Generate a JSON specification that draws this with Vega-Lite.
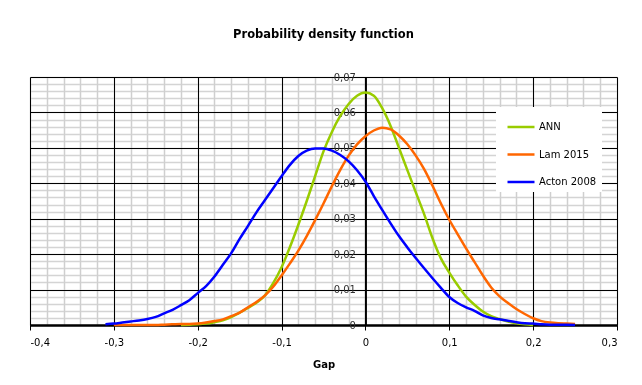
{
  "$schema": "https://vega.github.io/schema/vega-lite/v6.json",
  "autosize": "none",
  "width": 587,
  "height": 248,
  "padding": {"left": 30, "top": 77, "right": 25, "bottom": 60},
  "background": "white",
  "config": {"view": {"stroke": null}, "font": "DejaVu Sans"},
  "title": {"text": "Probability density function", "fontSize": 11.5, "fontWeight": "bold", "anchor": "middle", "baseline": "alphabetic", "offset": 23, "color": "#000000", "font": "DejaVu Sans"},
  "data": {"values": [
    {"series": "ANN", "gap": -0.22, "density": 0.0000},
    {"series": "ANN", "gap": -0.21, "density": 0.0001},
    {"series": "ANN", "gap": -0.20, "density": 0.0002},
    {"series": "ANN", "gap": -0.19, "density": 0.0004},
    {"series": "ANN", "gap": -0.18, "density": 0.0008},
    {"series": "ANN", "gap": -0.17, "density": 0.0013},
    {"series": "ANN", "gap": -0.16, "density": 0.0022},
    {"series": "ANN", "gap": -0.15, "density": 0.0035},
    {"series": "ANN", "gap": -0.14, "density": 0.0048},
    {"series": "ANN", "gap": -0.13, "density": 0.0063},
    {"series": "ANN", "gap": -0.12, "density": 0.0083},
    {"series": "ANN", "gap": -0.11, "density": 0.0118},
    {"series": "ANN", "gap": -0.10, "density": 0.0163},
    {"series": "ANN", "gap": -0.09, "density": 0.0220},
    {"series": "ANN", "gap": -0.08, "density": 0.0283},
    {"series": "ANN", "gap": -0.07, "density": 0.0350},
    {"series": "ANN", "gap": -0.06, "density": 0.0420},
    {"series": "ANN", "gap": -0.05, "density": 0.0490},
    {"series": "ANN", "gap": -0.04, "density": 0.0545},
    {"series": "ANN", "gap": -0.03, "density": 0.0590},
    {"series": "ANN", "gap": -0.02, "density": 0.0624},
    {"series": "ANN", "gap": -0.01, "density": 0.0647},
    {"series": "ANN", "gap": 0.00, "density": 0.0656},
    {"series": "ANN", "gap": 0.01, "density": 0.0647},
    {"series": "ANN", "gap": 0.02, "density": 0.0612},
    {"series": "ANN", "gap": 0.03, "density": 0.0562},
    {"series": "ANN", "gap": 0.04, "density": 0.0500},
    {"series": "ANN", "gap": 0.05, "density": 0.0437},
    {"series": "ANN", "gap": 0.06, "density": 0.0375},
    {"series": "ANN", "gap": 0.07, "density": 0.0313},
    {"series": "ANN", "gap": 0.08, "density": 0.0245},
    {"series": "ANN", "gap": 0.09, "density": 0.0188},
    {"series": "ANN", "gap": 0.10, "density": 0.0148},
    {"series": "ANN", "gap": 0.11, "density": 0.0112},
    {"series": "ANN", "gap": 0.12, "density": 0.0080},
    {"series": "ANN", "gap": 0.13, "density": 0.0057},
    {"series": "ANN", "gap": 0.14, "density": 0.0038},
    {"series": "ANN", "gap": 0.15, "density": 0.0025},
    {"series": "ANN", "gap": 0.16, "density": 0.0017},
    {"series": "ANN", "gap": 0.17, "density": 0.0010},
    {"series": "ANN", "gap": 0.18, "density": 0.0005},
    {"series": "ANN", "gap": 0.19, "density": 0.0002},
    {"series": "ANN", "gap": 0.20, "density": 0.0000},
    {"series": "Lam 2015", "gap": -0.30, "density": 0.0000},
    {"series": "Lam 2015", "gap": -0.29, "density": 0.0000},
    {"series": "Lam 2015", "gap": -0.28, "density": 0.0000},
    {"series": "Lam 2015", "gap": -0.27, "density": 0.0000},
    {"series": "Lam 2015", "gap": -0.26, "density": 0.0000},
    {"series": "Lam 2015", "gap": -0.25, "density": 0.0000},
    {"series": "Lam 2015", "gap": -0.24, "density": 0.0001},
    {"series": "Lam 2015", "gap": -0.23, "density": 0.0002},
    {"series": "Lam 2015", "gap": -0.22, "density": 0.0003},
    {"series": "Lam 2015", "gap": -0.21, "density": 0.0003},
    {"series": "Lam 2015", "gap": -0.20, "density": 0.0004},
    {"series": "Lam 2015", "gap": -0.19, "density": 0.0007},
    {"series": "Lam 2015", "gap": -0.18, "density": 0.0011},
    {"series": "Lam 2015", "gap": -0.17, "density": 0.0016},
    {"series": "Lam 2015", "gap": -0.16, "density": 0.0025},
    {"series": "Lam 2015", "gap": -0.15, "density": 0.0035},
    {"series": "Lam 2015", "gap": -0.14, "density": 0.0050},
    {"series": "Lam 2015", "gap": -0.13, "density": 0.0065},
    {"series": "Lam 2015", "gap": -0.12, "density": 0.0083},
    {"series": "Lam 2015", "gap": -0.11, "density": 0.0108},
    {"series": "Lam 2015", "gap": -0.10, "density": 0.0140},
    {"series": "Lam 2015", "gap": -0.09, "density": 0.0174},
    {"series": "Lam 2015", "gap": -0.08, "density": 0.0210},
    {"series": "Lam 2015", "gap": -0.07, "density": 0.0251},
    {"series": "Lam 2015", "gap": -0.06, "density": 0.0296},
    {"series": "Lam 2015", "gap": -0.05, "density": 0.0343},
    {"series": "Lam 2015", "gap": -0.04, "density": 0.0392},
    {"series": "Lam 2015", "gap": -0.03, "density": 0.0438},
    {"series": "Lam 2015", "gap": -0.02, "density": 0.0478},
    {"series": "Lam 2015", "gap": -0.01, "density": 0.0510},
    {"series": "Lam 2015", "gap": 0.00, "density": 0.0533},
    {"series": "Lam 2015", "gap": 0.01, "density": 0.0549},
    {"series": "Lam 2015", "gap": 0.02, "density": 0.0557},
    {"series": "Lam 2015", "gap": 0.03, "density": 0.0552},
    {"series": "Lam 2015", "gap": 0.04, "density": 0.0535},
    {"series": "Lam 2015", "gap": 0.05, "density": 0.0510},
    {"series": "Lam 2015", "gap": 0.06, "density": 0.0478},
    {"series": "Lam 2015", "gap": 0.07, "density": 0.0440},
    {"series": "Lam 2015", "gap": 0.08, "density": 0.0393},
    {"series": "Lam 2015", "gap": 0.09, "density": 0.0343},
    {"series": "Lam 2015", "gap": 0.10, "density": 0.0297},
    {"series": "Lam 2015", "gap": 0.11, "density": 0.0256},
    {"series": "Lam 2015", "gap": 0.12, "density": 0.0216},
    {"series": "Lam 2015", "gap": 0.13, "density": 0.0178},
    {"series": "Lam 2015", "gap": 0.14, "density": 0.0140},
    {"series": "Lam 2015", "gap": 0.15, "density": 0.0106},
    {"series": "Lam 2015", "gap": 0.16, "density": 0.0081},
    {"series": "Lam 2015", "gap": 0.17, "density": 0.0062},
    {"series": "Lam 2015", "gap": 0.18, "density": 0.0045},
    {"series": "Lam 2015", "gap": 0.19, "density": 0.0031},
    {"series": "Lam 2015", "gap": 0.20, "density": 0.0019},
    {"series": "Lam 2015", "gap": 0.21, "density": 0.0011},
    {"series": "Lam 2015", "gap": 0.22, "density": 0.0007},
    {"series": "Lam 2015", "gap": 0.23, "density": 0.0005},
    {"series": "Lam 2015", "gap": 0.24, "density": 0.0004},
    {"series": "Lam 2015", "gap": 0.25, "density": 0.0003},
    {"series": "Acton 2008", "gap": -0.31, "density": 0.0002},
    {"series": "Acton 2008", "gap": -0.30, "density": 0.0004},
    {"series": "Acton 2008", "gap": -0.29, "density": 0.0007},
    {"series": "Acton 2008", "gap": -0.28, "density": 0.0010},
    {"series": "Acton 2008", "gap": -0.27, "density": 0.0013},
    {"series": "Acton 2008", "gap": -0.26, "density": 0.0017},
    {"series": "Acton 2008", "gap": -0.25, "density": 0.0023},
    {"series": "Acton 2008", "gap": -0.24, "density": 0.0033},
    {"series": "Acton 2008", "gap": -0.23, "density": 0.0043},
    {"series": "Acton 2008", "gap": -0.22, "density": 0.0056},
    {"series": "Acton 2008", "gap": -0.21, "density": 0.0070},
    {"series": "Acton 2008", "gap": -0.20, "density": 0.0090},
    {"series": "Acton 2008", "gap": -0.19, "density": 0.0110},
    {"series": "Acton 2008", "gap": -0.18, "density": 0.0137},
    {"series": "Acton 2008", "gap": -0.17, "density": 0.0170},
    {"series": "Acton 2008", "gap": -0.16, "density": 0.0203},
    {"series": "Acton 2008", "gap": -0.15, "density": 0.0243},
    {"series": "Acton 2008", "gap": -0.14, "density": 0.0280},
    {"series": "Acton 2008", "gap": -0.13, "density": 0.0318},
    {"series": "Acton 2008", "gap": -0.12, "density": 0.0352},
    {"series": "Acton 2008", "gap": -0.11, "density": 0.0386},
    {"series": "Acton 2008", "gap": -0.10, "density": 0.0420},
    {"series": "Acton 2008", "gap": -0.09, "density": 0.0452},
    {"series": "Acton 2008", "gap": -0.08, "density": 0.0477},
    {"series": "Acton 2008", "gap": -0.07, "density": 0.0492},
    {"series": "Acton 2008", "gap": -0.06, "density": 0.0498},
    {"series": "Acton 2008", "gap": -0.05, "density": 0.0498},
    {"series": "Acton 2008", "gap": -0.04, "density": 0.0492},
    {"series": "Acton 2008", "gap": -0.03, "density": 0.0480},
    {"series": "Acton 2008", "gap": -0.02, "density": 0.0462},
    {"series": "Acton 2008", "gap": -0.01, "density": 0.0437},
    {"series": "Acton 2008", "gap": 0.00, "density": 0.0405},
    {"series": "Acton 2008", "gap": 0.01, "density": 0.0364},
    {"series": "Acton 2008", "gap": 0.02, "density": 0.0325},
    {"series": "Acton 2008", "gap": 0.03, "density": 0.0287},
    {"series": "Acton 2008", "gap": 0.04, "density": 0.0251},
    {"series": "Acton 2008", "gap": 0.05, "density": 0.0219},
    {"series": "Acton 2008", "gap": 0.06, "density": 0.0189},
    {"series": "Acton 2008", "gap": 0.07, "density": 0.0160},
    {"series": "Acton 2008", "gap": 0.08, "density": 0.0132},
    {"series": "Acton 2008", "gap": 0.09, "density": 0.0105},
    {"series": "Acton 2008", "gap": 0.10, "density": 0.0079},
    {"series": "Acton 2008", "gap": 0.11, "density": 0.0062},
    {"series": "Acton 2008", "gap": 0.12, "density": 0.0050},
    {"series": "Acton 2008", "gap": 0.13, "density": 0.0040},
    {"series": "Acton 2008", "gap": 0.14, "density": 0.0027},
    {"series": "Acton 2008", "gap": 0.15, "density": 0.0020},
    {"series": "Acton 2008", "gap": 0.16, "density": 0.0016},
    {"series": "Acton 2008", "gap": 0.17, "density": 0.0012},
    {"series": "Acton 2008", "gap": 0.18, "density": 0.0008},
    {"series": "Acton 2008", "gap": 0.19, "density": 0.0005},
    {"series": "Acton 2008", "gap": 0.20, "density": 0.0004},
    {"series": "Acton 2008", "gap": 0.21, "density": 0.0002},
    {"series": "Acton 2008", "gap": 0.22, "density": 0.0001},
    {"series": "Acton 2008", "gap": 0.23, "density": 0.0001},
    {"series": "Acton 2008", "gap": 0.24, "density": 0.0001},
    {"series": "Acton 2008", "gap": 0.25, "density": 0.0000}
  ]},
  "resolve": {"axis": {"x": "independent", "y": "independent"}},
  "layer": [
    {
      "mark": {"type": "line", "opacity": 0},
      "encoding": {
        "x": {"field": "gap", "type": "quantitative", "scale": {"domain": [-0.4, 0.3], "nice": false, "zero": false},
          "axis": {"orient": "bottom", "values": [-0.4,-0.38,-0.36,-0.34,-0.32,-0.3,-0.28,-0.26,-0.24,-0.22,-0.2,-0.18,-0.16,-0.14,-0.12,-0.1,-0.08,-0.06,-0.04,-0.02,0,0.02,0.04,0.06,0.08,0.1,0.12,0.14,0.16,0.18,0.2,0.22,0.24,0.26,0.28,0.3],
            "grid": true, "gridColor": "#cfcfcf", "gridWidth": 1.5, "labels": false, "ticks": false, "domain": false, "title": null}},
        "y": {"field": "density", "type": "quantitative", "scale": {"domain": [0, 0.07], "nice": false},
          "axis": {"orient": "left", "values": [0,0.002,0.004,0.006,0.008,0.01,0.012,0.014,0.016,0.018,0.02,0.022,0.024,0.026,0.028,0.03,0.032,0.034,0.036,0.038,0.04,0.042,0.044,0.046,0.048,0.05,0.052,0.054,0.056,0.058,0.06,0.062,0.064,0.066,0.068,0.07],
            "grid": true, "gridColor": "#d4d4d4", "gridWidth": 1.5, "labels": false, "ticks": false, "domain": false, "title": null,
            "encoding": {"grid": {"blend": {"value": "darken"}}}}},
        "detail": {"field": "series"}
      }
    },
    {
      "mark": {"type": "line", "opacity": 0},
      "encoding": {
        "x": {"field": "gap", "type": "quantitative",
          "axis": {"orient": "bottom", "values": [-0.4,-0.3,-0.2,-0.1,0,0.1,0.2,0.3],
            "grid": true, "gridColor": "#000000", "gridWidth": 1, "labels": false, "ticks": false, "domain": false, "title": null}},
        "y": {"field": "density", "type": "quantitative",
          "axis": {"orient": "left", "values": [0,0.01,0.02,0.03,0.04,0.05,0.06,0.07],
            "grid": true, "gridColor": "#000000", "gridWidth": 1, "labels": false, "ticks": false, "domain": false, "title": null}},
        "detail": {"field": "series"}
      }
    },
    {
      "mark": {"type": "line", "strokeWidth": 2.5, "interpolate": "monotone"},
      "encoding": {
        "x": {"field": "gap", "type": "quantitative",
          "axis": {"orient": "bottom", "values": [-0.4,-0.3,-0.2,-0.1,0,0.1,0.2,0.3], "grid": false,
            "labelExpr": "datum.value == 0 ? '0' : (datum.value < 0 ? '-' : '') + replace(format(abs(datum.value), '.1f'), '.', ',')",
            "labelFont": "DejaVu Sans", "labelFontSize": 10, "labelColor": "#000000", "labelPadding": 7,
            "tickSize": 5, "tickColor": "#000000", "tickWidth": 1,
            "domainColor": "#000000", "domainWidth": 2.5,
            "title": "Gap", "titleFont": "DejaVu Sans", "titleFontSize": 10, "titleFontWeight": "bold", "titleColor": "#000000", "titlePadding": 12}},
        "y": {"field": "density", "type": "quantitative",
          "axis": {"orient": "left", "offset": -335.43, "values": [0,0.01,0.02,0.03,0.04,0.05,0.06,0.07], "grid": false,
            "labelExpr": "datum.value == 0 ? '0' : replace(format(datum.value, '.2f'), '.', ',')",
            "labelFont": "DejaVu Sans", "labelFontSize": 10, "labelColor": "#303030", "labelPadding": 6,
            "tickSize": 4, "tickColor": "#000000", "tickWidth": 1,
            "domainColor": "#000000", "domainWidth": 2, "title": null}},
        "color": {"field": "series", "type": "nominal",
          "scale": {"domain": ["ANN", "Lam 2015", "Acton 2008"], "range": ["#99CC00", "#FF6600", "#0000FF"]},
          "legend": {"title": null, "orient": "none", "legendX": 466, "legendY": 30,
            "fillColor": "#ffffff", "padding": 5, "symbolType": "stroke", "symbolSize": 729, "symbolStrokeWidth": 2.5,
            "symbolOffset": 5, "labelFont": "DejaVu Sans", "labelFontSize": 10, "labelColor": "#000000", "labelOffset": 3,
            "rowPadding": 7.5, "offset": 0}}
      }
    }
  ]
}
